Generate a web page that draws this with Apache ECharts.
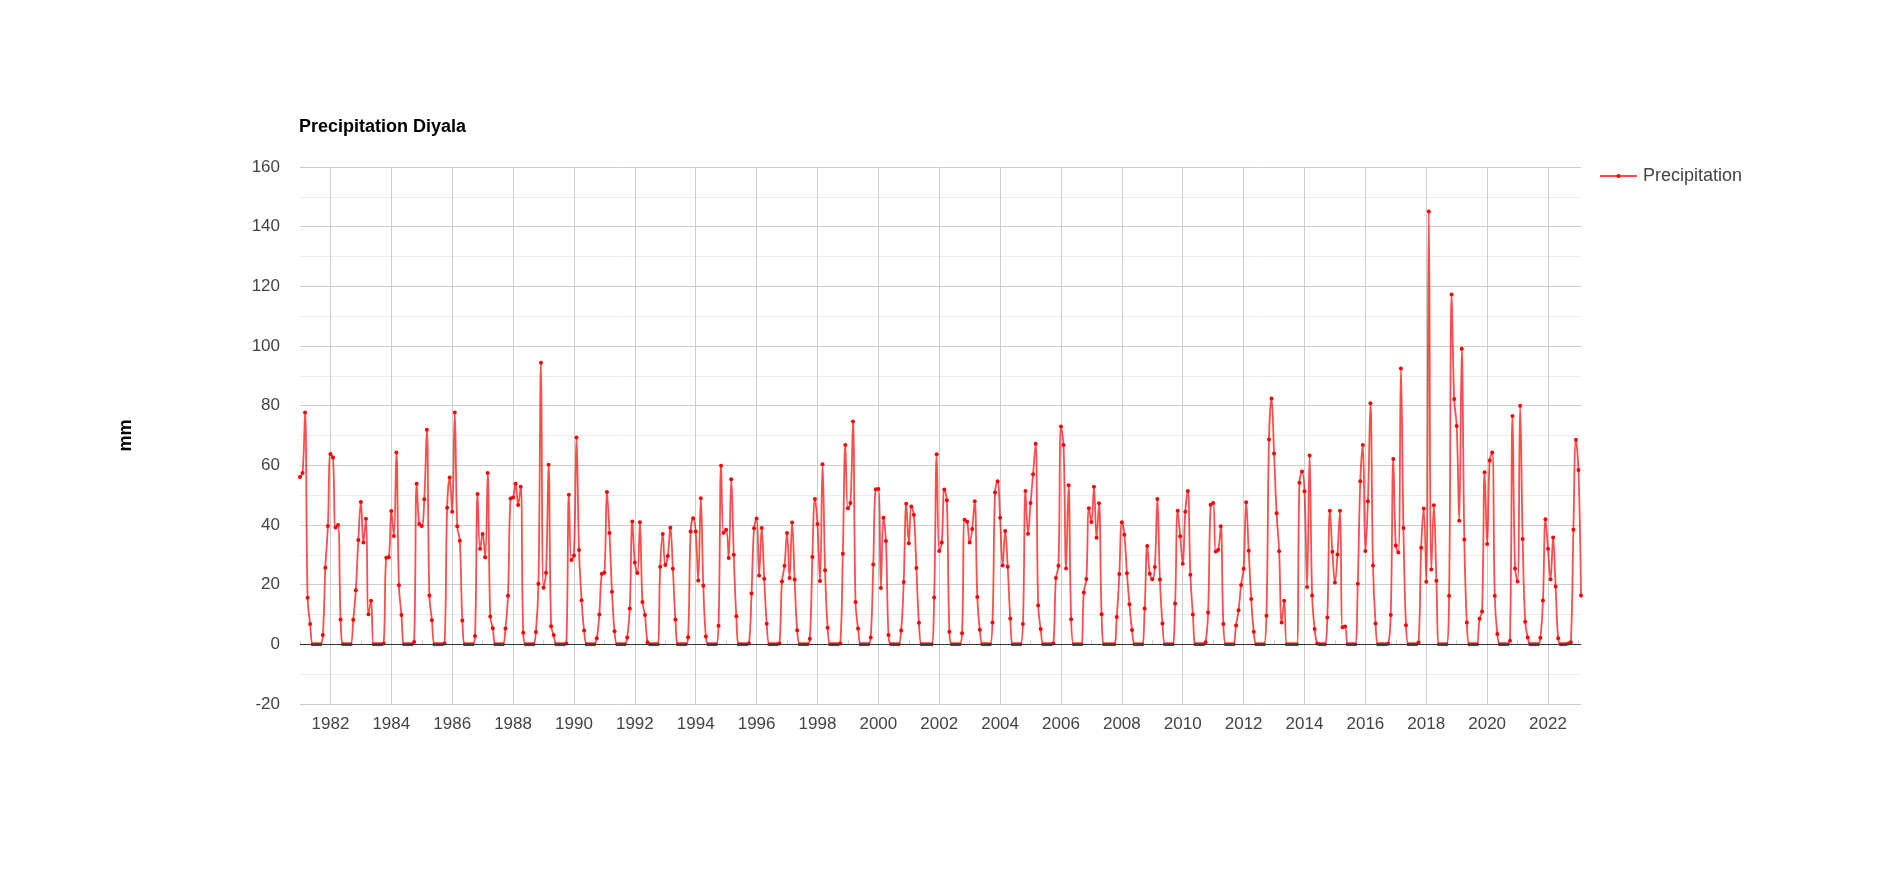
<!DOCTYPE html>
<html>
<head>
<meta charset="utf-8">
<script src="https://cdn.jsdelivr.net/npm/echarts@6/dist/echarts.min.js"></script>
<style>
html,body{margin:0;padding:0;background:#fff;}
#chart{width:1880px;height:871px;}
</style>
</head>
<body>
<div id="chart"></div>
<script>
// Monthly precipitation (mm), Jan 1981 .. Feb 2023
const startYear = 1981;
const p1980s = [
  56.1, 57.4, 77.7, 15.6, 6.8, 0, 0, 0, 0, 3.1, 25.7, 39.7,
  63.8, 62.6, 39.2, 40, 8.3, 0, 0, 0, 0, 8.2, 18.1, 35,
  47.7, 34.1, 42.1, 10.1, 14.6, 0, 0, 0, 0, 0.3, 29, 29.2,
  44.7, 36.3, 64.3, 19.8, 9.8, 0, 0, 0, 0, 0.8, 53.8, 40.3,
  39.7, 48.6, 71.9, 16.4, 8.1, 0, 0, 0, 0, 0.3, 45.8, 55.9,
  44.4, 77.7, 39.6, 34.7, 8, 0, 0, 0, 0, 2.8, 50.4, 32,
  37, 29.2, 57.4, 9.3, 5.4, 0, 0, 0, 0, 5.3, 16.3, 48.9,
  49.2, 53.8, 46.7, 52.8, 3.9, 0, 0, 0, 0, 4.1, 20.3, 94.4,
  19, 24, 60.2, 6.1, 3.1, 0, 0, 0, 0, 0.3, 50.1, 28.3
];
const p1990s = [
  29.8, 69.3, 31.6, 14.8, 4.6, 0, 0, 0, 0, 2, 10, 23.7,
  24, 51.1, 37.3, 17.6, 4.4, 0, 0, 0, 0, 2.3, 12, 41.2,
  27.4, 23.9, 40.9, 14.2, 9.8, 0.7, 0, 0, 0, 0, 26, 37,
  26.6, 29.6, 39.1, 25.3, 8.3, 0, 0, 0, 0, 2.4, 37.8, 42.3,
  37.8, 21.4, 49, 19.6, 2.6, 0, 0, 0, 0, 6.2, 59.9, 37.4,
  38.4, 28.9, 55.3, 30, 9.4, 0, 0, 0, 0, 0.3, 17, 38.9,
  42.2, 23.1, 39, 22, 6.9, 0, 0, 0, 0, 0.3, 21.1, 26.3,
  37.3, 22.2, 40.8, 21.7, 4.7, 0, 0, 0, 0, 1.9, 29.3, 48.7,
  40.3, 21.2, 60.4, 24.8, 5.6, 0, 0, 0, 0, 0.3, 30.4, 66.8,
  45.6, 47.4, 74.7, 14.2, 5.3, 0, 0, 0, 0, 2.3, 26.8, 52
];
const p2000s = [
  52.1, 18.9, 42.4, 34.6, 3.1, 0, 0, 0, 0, 4.6, 20.9, 47.1,
  33.9, 46.2, 43.4, 25.6, 7.2, 0, 0, 0, 0, 0, 15.7, 63.7,
  31.3, 34.1, 51.9, 48.3, 4.2, 0, 0, 0, 0, 3.7, 41.8, 41.1,
  34.1, 38.7, 48, 15.9, 4.9, 0, 0, 0, 0, 7.3, 50.9, 54.7,
  42.4, 26.4, 38, 26, 8.7, 0, 0, 0, 0, 6.8, 51.4, 37.1,
  47.4, 57, 67.2, 13, 5.1, 0, 0, 0, 0, 0.3, 22.2, 26.3,
  73, 66.8, 25.4, 53.3, 8.4, 0, 0, 0, 0, 17.4, 21.9, 45.6,
  41, 52.8, 35.7, 47.3, 10.1, 0, 0, 0, 0, 0, 9.2, 23.6,
  40.9, 36.7, 23.8, 13.4, 4.8, 0, 0, 0, 0, 12, 33, 23.7,
  21.8, 25.9, 48.7, 21.7, 7, 0, 0, 0, 0, 13.7, 44.8, 36.2
];
const p2010s = [
  27, 44.4, 51.4, 23.3, 10, 0, 0, 0, 0, 0.7, 10.7, 46.8,
  47.4, 31.1, 31.7, 39.6, 6.8, 0, 0, 0, 0, 6.3, 11.4, 19.9,
  25.3, 47.6, 31.4, 15.2, 4.2, 0, 0, 0, 0, 9.6, 68.7, 82.4,
  64, 43.9, 31.2, 7.3, 14.6, 0, 0, 0, 0, 0, 54.2, 57.9,
  51.3, 19.2, 63.3, 16.4, 5.1, 0.3, 0, 0, 0, 9, 44.8, 31,
  20.7, 30.1, 44.8, 5.7, 6, 0, 0, 0, 0, 20.3, 54.7, 66.8,
  31.3, 48, 80.8, 26.4, 7, 0, 0, 0, 0, 0.2, 9.8, 62.1,
  33.1, 30.8, 92.5, 39, 6.4, 0, 0, 0, 0, 0.6, 32.4, 45.5,
  21, 145.1, 25.1, 46.6, 21.3, 0, 0, 0, 0, 16.3, 117.3, 82.2,
  73.2, 41.4, 99.1, 35.1, 7.3, 0, 0, 0, 0, 8.6, 11, 57.7
];
const p2020s = [
  33.6, 61.6, 64.3, 16.3, 3.5, 0, 0, 0, 0, 1.2, 76.5, 25.4,
  21.1, 80, 35.3, 7.6, 2.3, 0, 0, 0, 0, 2.2, 14.7, 41.9,
  32, 21.8, 35.8, 19.4, 2, 0, 0, 0, 0.3, 0.7, 38.4, 68.6,
  58.4, 16.4
];
const precipitation = [].concat(p1980s, p1990s, p2000s, p2010s, p2020s);
const months = [];
for (let i = 0; i < precipitation.length; i++) {
  const y = startYear + Math.floor(i / 12);
  const m = (i % 12) + 1;
  months.push(y + '-' + (m < 10 ? '0' + m : '' + m));
}
const isEvenYearStart = (v) => v.endsWith('-01') && (+v.slice(0, 4)) % 2 === 0;
const isOddYearStart = (v) => v.endsWith('-01') && (+v.slice(0, 4)) % 2 === 1;

const FONT = "'Liberation Sans', Arial, sans-serif";
const chart = echarts.init(document.getElementById('chart'), null, {renderer: 'canvas'});
chart.setOption({
  animation: false,
  backgroundColor: '#fff',
  textStyle: {fontFamily: FONT},
  title: {
    text: 'Precipitation Diyala',
    left: 299, top: 118, padding: 0,
    textStyle: {fontFamily: FONT, fontSize: 18, fontWeight: 'bold', color: '#000'}
  },
  legend: {
    data: ['Precipitation'],
    left: 1599, top: 167, padding: 0,
    itemWidth: 37, itemHeight: 5, itemGap: 10,
    textStyle: {fontFamily: FONT, fontSize: 18, color: '#444', padding: [0, 0, 0, 1]}
  },
  grid: {left: 300, right: 299, top: 167, bottom: 167, containLabel: false},
  xAxis: {
    type: 'category',
    data: months,
    boundaryGap: false,
    axisLine: {show: true, lineStyle: {color: '#ccc', width: 1}},
    axisTick: {show: true, inside: true, length: 4, interval: (i, v) => isOddYearStart(v), lineStyle: {color: '#ccc'}},
    axisLabel: {
      interval: (i, v) => isEvenYearStart(v),
      formatter: (v) => v.slice(0, 4),
      margin: 12,
      fontFamily: FONT, fontSize: 17, color: '#444'
    },
    splitLine: {show: true, interval: (i, v) => isEvenYearStart(v), lineStyle: {color: '#ccc', width: 1}}
  },
  yAxis: {
    type: 'value',
    min: -20, max: 160, interval: 20,
    name: 'mm',
    nameLocation: 'middle',
    nameRotate: 90,
    nameGap: 165,
    nameTextStyle: {fontFamily: FONT, fontSize: 18, fontWeight: 'bold', color: '#000'},
    axisLine: {show: false},
    axisTick: {show: false},
    axisLabel: {margin: 20, fontFamily: FONT, fontSize: 17, color: '#444'},
    splitLine: {show: true, lineStyle: {color: '#ccc', width: 1}},
    minorTick: {show: false, splitNumber: 2},
    minorSplitLine: {show: true, lineStyle: {color: '#ebebeb', width: 1}}
  },
  series: [{
    name: 'Precipitation',
    type: 'line',
    data: precipitation,
    smooth: 0.4,
    showAllSymbol: true,
    symbol: 'circle',
    symbolSize: 4,
    itemStyle: {color: '#ff0000'},
    lineStyle: {color: '#ff0000', width: 1.8, opacity: 0.7},
    emphasis: {disabled: true},
    markLine: {
      silent: true,
      symbol: ['none', 'none'],
      label: {show: false},
      lineStyle: {color: '#333', width: 1, type: 'solid'},
      data: [{yAxis: 0}]
    }
  }]
});
</script>
</body>
</html>
